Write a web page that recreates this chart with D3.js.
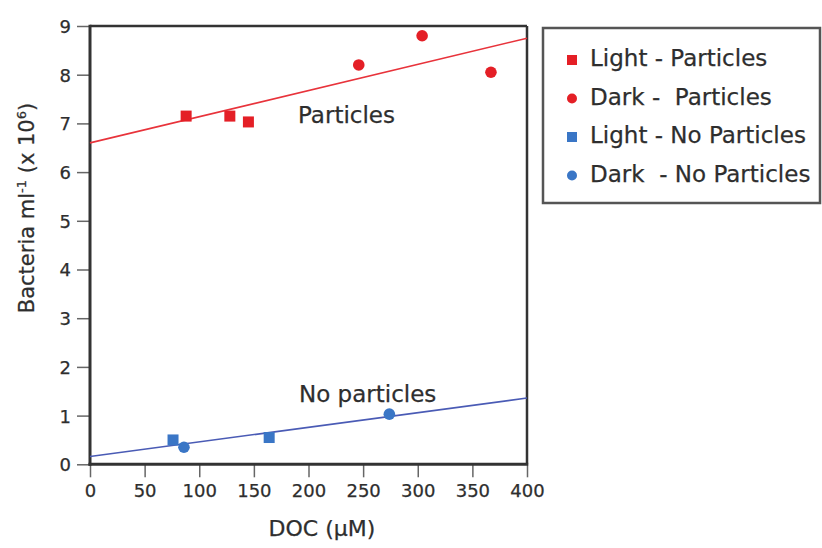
<!DOCTYPE html>
<html>
<head>
<meta charset="utf-8">
<script src="https://cdn.jsdelivr.net/npm/d3@7"></script>
<style>
  body { margin: 0; background: #fff; }
  svg text { font-family: "DejaVu Sans", sans-serif; fill: #2e2e2e; white-space: pre; stroke: #2e2e2e; stroke-width: 0.25px; }
</style>
</head>
<body>
<svg id="chart" width="822" height="548"></svg>
<script>
// ---- data ----
const xTicks = [0, 50, 100, 150, 200, 250, 300, 350, 400];
const yTicks = [0, 1, 2, 3, 4, 5, 6, 7, 8, 9];

const lightParticlesX = [88, 128, 145];
const lightParticlesY = [7.15, 7.15, 7.03];
const darkParticlesX = [246, 304, 367];
const darkParticlesY = [8.2, 8.8, 8.05];
const lightNoParticlesX = [76, 164];
const lightNoParticlesY = [0.5, 0.55];
const darkNoParticlesX = [86, 274];
const darkNoParticlesY = [0.35, 1.03];

const fitX = [0, 400];
const fitParticlesY = [6.6, 8.75];
const fitNoParticlesY = [0.16, 1.36];

const legendLabels = ["Light - Particles", "Dark -  Particles", "Light - No Particles", "Dark  - No Particles"];

// ---- layout ----
const RED = "#e41f26", BLUE = "#3a76c6", RED_LINE = "#e8333b", BLUE_LINE = "#4a5bb5";
const svg = d3.select("#chart");
const x = d3.scaleLinear().domain([0, 400]).range([90, 527]);
const y = d3.scaleLinear().domain([0, 9]).range([464.3, 26]);

// axes
const yAxis = d3.axisLeft(y).tickValues(yTicks).tickSize(13).tickSizeOuter(0).tickPadding(6);
const xAxis = d3.axisBottom(x).tickValues(xTicks).tickSize(13).tickSizeOuter(0).tickPadding(7);

const gy = svg.append("g").attr("transform", `translate(${x(0)},0)`).call(yAxis);
const gx = svg.append("g").attr("transform", `translate(0,${y(0)})`).call(xAxis);
[gx, gy].forEach(g => {
  g.select(".domain").remove();
  g.selectAll(".tick line").attr("stroke", "#666").attr("stroke-width", 1.5);
  g.selectAll(".tick text").style("font-size", "18px").attr("fill", "#2e2e2e");
});
gy.selectAll(".tick text").attr("dy", "0.36em");

// frame
const frame = svg.append("g").attr("stroke", "#333").attr("fill", "none");
frame.append("line").attr("x1", x(0)).attr("x2", x(400)).attr("y1", y(9)).attr("y2", y(9)).attr("stroke-width", 2.5);
frame.append("line").attr("x1", x(400)).attr("x2", x(400)).attr("y1", y(9)).attr("y2", y(0)).attr("stroke-width", 2.5);
frame.append("line").attr("x1", x(0)).attr("x2", x(0)).attr("y1", y(9) - 1.2).attr("y2", y(0) + 1.5).attr("stroke-width", 3);
frame.append("line").attr("x1", x(0) - 1.5).attr("x2", x(400) + 1.2).attr("y1", y(0)).attr("y2", y(0)).attr("stroke-width", 3);

// fit lines
const line = d3.line().x(d => x(d[0])).y(d => y(d[1]));
svg.append("path").datum(d3.zip(fitX, fitParticlesY)).attr("d", line)
  .attr("stroke", RED_LINE).attr("stroke-width", 1.6).attr("fill", "none");
svg.append("path").datum(d3.zip(fitX, fitNoParticlesY)).attr("d", line)
  .attr("stroke", BLUE_LINE).attr("stroke-width", 1.6).attr("fill", "none");

// points
const SQ = 11, R = 5.8;
function squares(xs, ys, color) {
  svg.append("g").selectAll("rect").data(d3.zip(xs, ys)).join("rect")
    .attr("x", d => x(d[0]) - SQ / 2).attr("y", d => y(d[1]) - SQ / 2)
    .attr("width", SQ).attr("height", SQ).attr("fill", color);
}
function circles(xs, ys, color) {
  svg.append("g").selectAll("circle").data(d3.zip(xs, ys)).join("circle")
    .attr("cx", d => x(d[0])).attr("cy", d => y(d[1])).attr("r", R).attr("fill", color);
}
squares(lightParticlesX, lightParticlesY, RED);
circles(darkParticlesX, darkParticlesY, RED);
squares(lightNoParticlesX, lightNoParticlesY, BLUE);
circles(darkNoParticlesX, darkNoParticlesY, BLUE);

// annotations
svg.append("text").attr("x", 298).attr("y", 123).style("font-size", "23px").text("Particles");
svg.append("text").attr("x", 299).attr("y", 402).style("font-size", "23px").text("No particles");

// axis titles
svg.append("text").attr("x", 322).attr("y", 536).attr("text-anchor", "middle")
  .style("font-size", "22px").text("DOC (µM)");
const yt = svg.append("text").attr("transform", "translate(34,208) rotate(-90)")
  .attr("text-anchor", "middle").style("font-size", "21px");
yt.append("tspan").text("Bacteria ml");
yt.append("tspan").attr("dy", -8).style("font-size", "13px").text("-1");
yt.append("tspan").attr("dy", 8).text(" (x 10");
yt.append("tspan").attr("dy", -8).style("font-size", "13px").text("6");
yt.append("tspan").attr("dy", 8).text(")");

// legend
const lg = svg.append("g");
lg.append("rect").attr("x", 543).attr("y", 28).attr("width", 277).attr("height", 175)
  .attr("fill", "#fff").attr("stroke", "#555").attr("stroke-width", 2.5);
const legendColors = [RED, RED, BLUE, BLUE];
const legendShapes = ["square", "circle", "square", "circle"];
legendLabels.forEach((lab, i) => {
  const by = 66 + i * 38.5;
  const cy = by - 6;
  if (legendShapes[i] === "square") {
    lg.append("rect").attr("x", 572 - 5).attr("y", cy - 5).attr("width", 10).attr("height", 10).attr("fill", legendColors[i]);
  } else {
    lg.append("circle").attr("cx", 572).attr("cy", cy).attr("r", 5).attr("fill", legendColors[i]);
  }
  lg.append("text").attr("x", 590).attr("y", by).style("font-size", "23px").text(lab);
});
</script>
</body>
</html>
